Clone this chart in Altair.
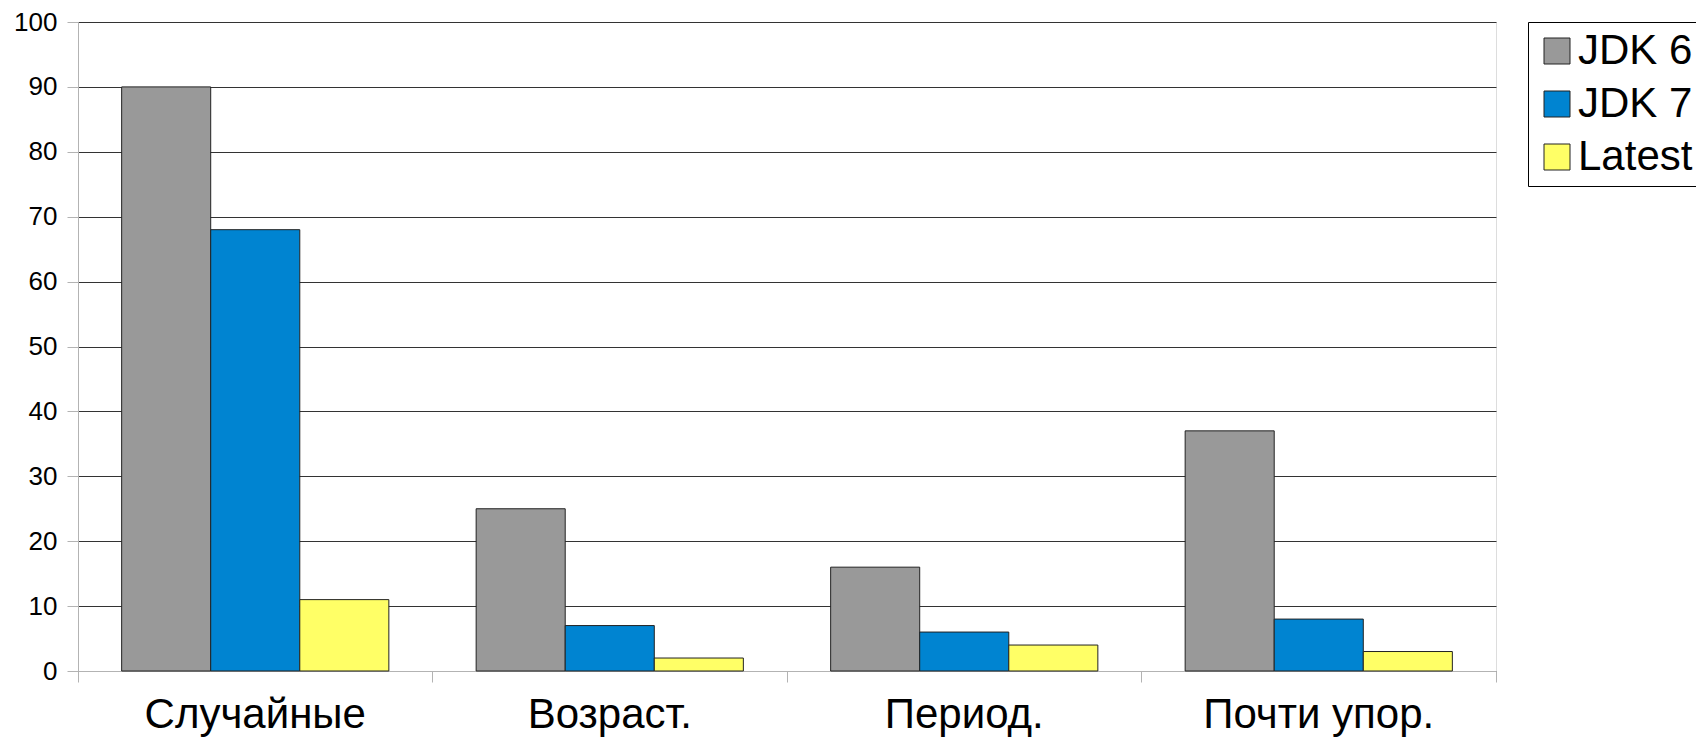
import altair as alt
import pandas as pd

# Benchmark results per test group
categories = ["Случайные", "Возраст.", "Период.", "Почти упор."]
series = ["JDK 6", "JDK 7", "Latest"]
jdk6 = [90, 25, 16, 37]
jdk7 = [68, 7, 6, 8]
latest = [11, 2, 4, 3]
colors = ["#999999", "#0084d1", "#ffff66"]

rows = []
for name, values in zip(series, [jdk6, jdk7, latest]):
    for cat, v in zip(categories, values):
        rows.append({"category": cat, "series": name, "value": v})
df = pd.DataFrame(rows)

FONT = "Liberation Sans"

chart = (
    alt.Chart(df)
    .mark_bar(stroke="#222222", strokeWidth=1)
    .encode(
        x=alt.X(
            "category:N",
            sort=categories,
            title=None,
            scale=alt.Scale(paddingInner=0, paddingOuter=0),
            axis=alt.Axis(
                labelAngle=0,
                labelFontSize=42,
                labelFont=FONT,
                labelColor="#000000",
                labelPadding=12,
                labelLimit=400,
                bandPosition=1,
                tickExtra=True,
                tickSize=11,
                tickColor="#b3b3b3",
                domainColor="#b3b3b3",
                grid=False,
            ),
        ),
        xOffset=alt.XOffset(
            "series:N",
            sort=series,
            scale=alt.Scale(paddingInner=0, paddingOuter=0.49),
        ),
        y=alt.Y(
            "value:Q",
            title=None,
            scale=alt.Scale(domain=[0, 100], nice=False),
            axis=alt.Axis(
                values=list(range(0, 101, 10)),
                labelFontSize=26,
                labelFont=FONT,
                labelColor="#000000",
                labelPadding=10,
                tickSize=11,
                tickColor="#b3b3b3",
                domainColor="#b3b3b3",
                grid=True,
                gridColor="#333333",
                gridWidth=1,
            ),
        ),
        color=alt.Color(
            "series:N",
            sort=series,
            scale=alt.Scale(domain=series, range=colors),
            legend=alt.Legend(
                title=None,
                orient="none",
                legendX=1450,
                legendY=0,
                symbolType="square",
                symbolSize=676,
                symbolStrokeColor="#222222",
                symbolStrokeWidth=1,
                symbolOpacity=1,
                labelFontSize=42,
                labelFont=FONT,
                labelColor="#000000",
                labelOffset=0,
                rowPadding=11,
                padding=8,
                strokeColor="#000000",
                labelLimit=400,
            ),
        ),
    )
    .properties(
        width=1418,
        height=649,
        autosize=alt.AutoSizeParams(type="none"),
        padding={"left": 78, "top": 22, "right": 200, "bottom": 66},
    )
    .configure_view(stroke=None)
    .configure(background="#ffffff")
)

chart.save("out.html", embed_options={"renderer": "svg", "actions": False})
